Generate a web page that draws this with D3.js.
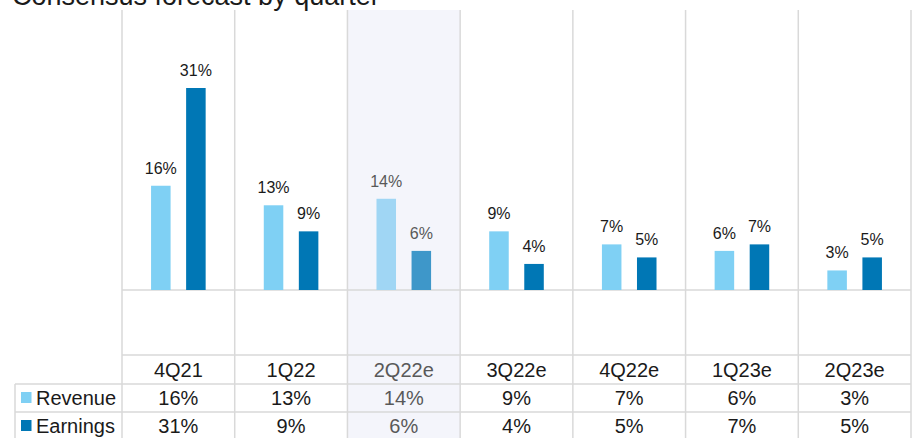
<!DOCTYPE html>
<html>
<head>
<meta charset="utf-8">
<script src="https://cdn.jsdelivr.net/npm/d3@7/dist/d3.min.js"></script>
<style>
  html, body { margin: 0; padding: 0; background: #fff; }
  svg { display: block; font-family: "Liberation Sans", Arial, sans-serif; }
</style>
</head>
<body>
<svg id="chart" width="915" height="438"></svg>
<script>
// Quarterly consensus growth forecasts (year over year, %)
const quarters = ["4Q21", "1Q22", "2Q22e", "3Q22e", "4Q22e", "1Q23e", "2Q23e"];
const seriesNames = ["Revenue", "Earnings"];
const revenue = [16, 13, 14, 9, 7, 6, 3];
const earnings = [31, 9, 6, 4, 5, 7, 5];
const highlightQuarter = "2Q22e";

const colors = {
  Revenue: "#7fd0f4",
  Earnings: "#0077b5"
};
const fadedColors = {
  Revenue: "#a0d6f4",
  Earnings: "#3e97c9"
};

const svg = d3.select("#chart");
const W = 915, H = 438;

// Layout
const plotLeft = 122, plotRight = 911;
const gridTop = 10;
const baseY = 290;
const catRowTop = 355, revRowTop = 384, earnRowTop = 412;
const tableLeft = 15;
const gridColor = "#d9d9d9";

const x = d3.scaleBand().domain(quarters).range([plotLeft, plotRight]).padding(0);
const xInner = d3.scaleBand().domain(seriesNames).range([0, x.bandwidth()])
  .paddingInner(0.443).paddingOuter(0.829);
const y = d3.scaleLinear().domain([0, 31]).range([baseY, 88]);

// Title (sits partly above the frame)
svg.append("text")
  .attr("x", 12).attr("y", 5)
  .attr("font-size", 27)
  .attr("fill", "#1a1a1a")
  .text("Consensus forecast by quarter");

// Highlighted quarter background
svg.append("rect")
  .attr("x", x(highlightQuarter))
  .attr("y", gridTop)
  .attr("width", x.bandwidth())
  .attr("height", H - gridTop)
  .attr("fill", "#f4f5fb");

// Grid: vertical column boundaries
const bounds = quarters.map(q => x(q)).concat([plotRight]);
svg.append("g").selectAll("line").data(bounds).join("line")
  .attr("x1", d => d).attr("x2", d => d)
  .attr("y1", gridTop).attr("y2", H)
  .attr("stroke", gridColor).attr("stroke-width", 1.5);

// Grid: horizontal rules
const hRules = [
  { y: baseY, x1: plotLeft },
  { y: catRowTop, x1: plotLeft },
  { y: revRowTop, x1: tableLeft },
  { y: earnRowTop, x1: tableLeft }
];
svg.append("g").selectAll("line").data(hRules).join("line")
  .attr("x1", d => d.x1).attr("x2", plotRight)
  .attr("y1", d => d.y).attr("y2", d => d.y)
  .attr("stroke", gridColor).attr("stroke-width", 1.5);

// Left border of the data table
svg.append("line")
  .attr("x1", tableLeft).attr("x2", tableLeft)
  .attr("y1", revRowTop).attr("y2", H)
  .attr("stroke", gridColor).attr("stroke-width", 1.5);

// Bars
const rows = quarters.map((q, i) => ({
  q,
  values: [
    { key: "Revenue", v: revenue[i] },
    { key: "Earnings", v: earnings[i] }
  ]
}));

const groups = svg.append("g").selectAll("g").data(rows).join("g")
  .attr("transform", d => `translate(${x(d.q)},0)`);

groups.selectAll("rect").data(d => d.values.map(v => ({ ...v, q: d.q }))).join("rect")
  .attr("x", d => xInner(d.key))
  .attr("y", d => y(d.v))
  .attr("width", xInner.bandwidth())
  .attr("height", d => baseY - y(d.v))
  .attr("fill", d => d.q === highlightQuarter ? fadedColors[d.key] : colors[d.key]);

groups.selectAll("text").data(d => d.values.map(v => ({ ...v, q: d.q }))).join("text")
  .attr("x", d => xInner(d.key) + xInner.bandwidth() / 2)
  .attr("y", d => y(d.v) - 12)
  .attr("text-anchor", "middle")
  .attr("font-size", 16)
  .attr("fill", d => d.q === highlightQuarter ? "#595959" : "#1a1a1a")
  .text(d => d.v + "%");

// Data table: category row and value rows
const textColor = q => q === highlightQuarter ? "#595959" : "#1a1a1a";
const mid = q => x(q) + x.bandwidth() / 2;

svg.append("g").selectAll("text").data(quarters).join("text")
  .attr("x", mid).attr("y", 377)
  .attr("text-anchor", "middle").attr("font-size", 20)
  .attr("fill", textColor)
  .text(d => d);

svg.append("g").selectAll("text").data(quarters).join("text")
  .attr("x", mid).attr("y", 405)
  .attr("text-anchor", "middle").attr("font-size", 20)
  .attr("fill", textColor)
  .text((d, i) => revenue[i] + "%");

svg.append("g").selectAll("text").data(quarters).join("text")
  .attr("x", mid).attr("y", 433)
  .attr("text-anchor", "middle").attr("font-size", 20)
  .attr("fill", textColor)
  .text((d, i) => earnings[i] + "%");

// Series keys in the table's first column
const legendRows = [
  { key: "Revenue", top: revRowTop, base: 405 },
  { key: "Earnings", top: earnRowTop, base: 433 }
];
const lg = svg.append("g").selectAll("g").data(legendRows).join("g");
lg.append("rect")
  .attr("x", 21).attr("y", d => d.base - 13)
  .attr("width", 10.5).attr("height", 11)
  .attr("fill", d => colors[d.key]);
lg.append("text")
  .attr("x", 36).attr("y", d => d.base)
  .attr("font-size", 20).attr("fill", "#1a1a1a")
  .text(d => d.key);
</script>
</body>
</html>
